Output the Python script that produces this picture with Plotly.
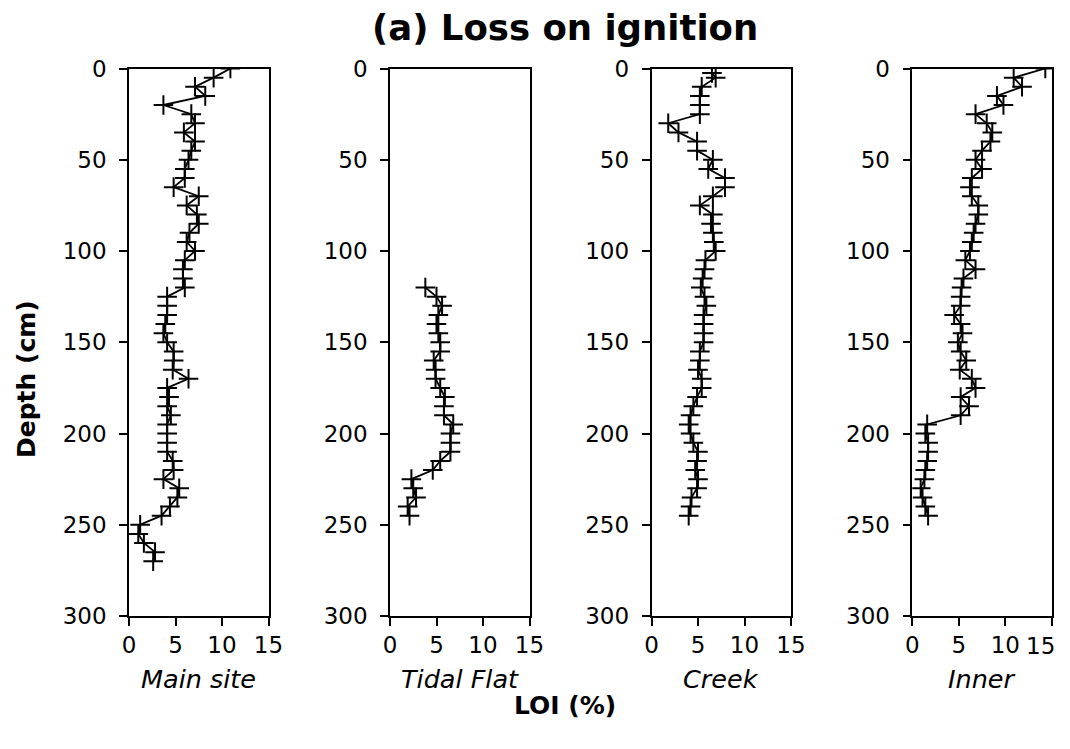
import plotly.graph_objects as go

# ---- data ----
main_depth = [0, 5, 10, 15, 20, 25, 30, 35, 40, 45, 50, 55, 60, 65, 70, 75, 80, 85, 90, 95,
              100, 105, 110, 115, 120, 125, 130, 135, 140, 145, 150, 155, 160, 165, 170, 175,
              180, 185, 190, 195, 200, 205, 210, 215, 220, 225, 230, 235, 240, 245, 250, 255,
              260, 265, 270]
main_loi = [10.9, 9.1, 7.1, 8.2, 3.7, 6.7, 7.1, 5.9, 7.1, 6.7, 6.4, 6.0, 6.0, 4.8, 7.5, 6.2,
            7.3, 7.5, 6.5, 6.2, 7.1, 6.0, 5.8, 5.8, 6.0, 4.1, 4.1, 4.1, 3.9, 3.7, 4.1, 4.8,
            4.8, 4.7, 6.4, 4.1, 4.3, 4.1, 4.5, 4.1, 4.1, 4.1, 4.1, 4.7, 4.8, 3.7, 5.4, 5.2,
            4.4, 3.5, 1.2, 1.0, 1.6, 2.8, 2.6]

tidal_depth = [120, 125, 130, 135, 140, 145, 150, 155, 160, 165, 170, 175, 180, 185, 190,
               195, 200, 205, 210, 215, 220, 225, 230, 235, 240, 245]
tidal_loi = [3.8, 5.0, 5.6, 5.2, 5.0, 5.2, 5.4, 5.4, 4.7, 4.9, 4.9, 5.4, 5.9, 5.8, 5.8,
             6.8, 6.5, 6.5, 6.5, 5.4, 4.6, 2.3, 2.5, 2.8, 1.9, 2.1]

creek_depth = [2.5, 5, 10, 15, 20, 25, 30, 35, 40, 45, 50, 55, 60, 65, 70, 75, 80, 85, 90, 95,
               100, 105, 110, 115, 120, 125, 130, 135, 140, 145, 150, 155, 160, 165, 170,
               175, 180, 185, 190, 195, 200, 205, 210, 215, 220, 225, 230, 235, 240, 245]
creek_loi = [6.5, 6.9, 5.4, 5.2, 5.2, 5.2, 1.8, 2.9, 4.9, 4.9, 6.6, 6.1, 7.9, 7.9, 6.6, 5.2,
             6.6, 6.4, 6.6, 6.7, 6.9, 5.8, 5.7, 5.5, 5.3, 5.7, 5.9, 5.6, 5.6, 5.6, 5.6, 5.2,
             5.2, 5.0, 5.4, 5.4, 4.9, 4.5, 4.2, 4.0, 4.2, 4.5, 5.0, 4.9, 4.7, 5.0, 4.9, 4.3,
             4.2, 4.0]

inner_depth = [0, 5, 10, 15, 20, 25, 30, 35, 40, 45, 50, 55, 60, 65, 70, 75, 80, 85, 90, 95,
               100, 105, 110, 115, 120, 125, 130, 135, 140, 145, 150, 155, 160, 165, 170,
               175, 180, 185, 190, 195, 200, 205, 210, 215, 220, 225, 230, 235, 240, 245]
inner_loi = [14.3, 10.9, 11.8, 9.1, 9.8, 6.8, 8.0, 8.6, 8.4, 7.5, 6.8, 7.5, 6.4, 6.2, 6.4,
             7.1, 7.1, 6.8, 6.6, 6.4, 6.2, 5.7, 6.8, 5.5, 5.3, 5.2, 5.2, 4.5, 5.2, 5.4, 4.9,
             5.2, 5.8, 5.1, 6.4, 6.8, 5.2, 6.1, 5.2, 1.6, 1.4, 1.7, 1.7, 1.6, 1.4, 1.3, 0.9,
             1.1, 1.4, 1.7]

site_names = ["Main site", "Tidal Flat", "Creek", "Inner"]
x_ticks = [0, 5, 10, 15]
y_ticks = [0, 50, 100, 150, 200, 250, 300]
title_text = "(a) Loss on ignition"
ylabel_text = "Depth (cm)"
xlabel_text = "LOI (%)"

series = [(main_loi, main_depth), (tidal_loi, tidal_depth),
          (creek_loi, creek_depth), (inner_loi, inner_depth)]

# ---- layout geometry (target-image pixels) ----
OFF = 8                          # page body margin
W, H = 1070 - OFF, 749 - 2 * OFF  # fit inside the window


def px(X):
    return (X - OFF) / W


def py(Y):
    return 1 - (Y - OFF) / H


left_px = [129, 390, 651.5, 912.3]
panel_w = 139.5
top_px, bot_px = 68.5, 616

FONT = "DejaVu Sans"
fig = go.Figure()

for i, (x, y) in enumerate(series):
    n = i + 1
    last = (i == len(series) - 1)
    fig.add_trace(go.Scatter(
        x=x, y=y, mode="lines+markers",
        line=dict(color="black", width=1.8),
        marker=dict(symbol="cross-thin", size=14, line=dict(color="black", width=2)),
        xaxis=f"x{n}", yaxis=f"y{n}", showlegend=False, hoverinfo="x+y",
    ))
    tick_text = [str(v) for v in x_ticks]
    if last:
        tick_text[-1] = ""  # drawn as an annotation so it stays inside the window
    ax = dict(
        domain=[px(left_px[i]), px(left_px[i] + panel_w)],
        range=[0, 15], tickvals=x_ticks, ticktext=tick_text, ticks="outside", ticklen=8,
        tickwidth=1.5, tickcolor="black", showline=True, linecolor="black", linewidth=1.5,
        mirror=True, showgrid=False, zeroline=False, anchor=f"y{n}", automargin=False,
        tickfont=dict(family=FONT, size=23, color="black"),
    )
    ay = dict(
        domain=[py(bot_px), py(top_px)],
        range=[300, 0], tickvals=y_ticks, ticks="outside", ticklen=8, tickwidth=1.5,
        tickcolor="black", showline=True, linecolor="black", linewidth=1.5, mirror=True,
        showgrid=False, zeroline=False, anchor=f"x{n}", automargin=False,
        ticklabelstandoff=8,
        tickfont=dict(family=FONT, size=23, color="black"),
    )
    fig.layout[f"xaxis{'' if n == 1 else n}"] = ax
    fig.layout[f"yaxis{'' if n == 1 else n}"] = ay
    fig.add_annotation(
        text=site_names[i], x=px(left_px[i] + panel_w / 2), y=py(679),
        xref="paper", yref="paper", showarrow=False, xanchor="center", yanchor="middle",
        font=dict(family=FONT, size=25.5, color="black", style="italic"),
    )

# last tick label of the right-most panel, kept inside the visible area
fig.add_annotation(text=str(x_ticks[-1]), x=px(1057), y=py(646), xref="paper", yref="paper",
                   showarrow=False, xanchor="right", yanchor="middle",
                   font=dict(family=FONT, size=23, color="black"))

fig.add_annotation(text=title_text, x=px(565), y=py(27), xref="paper", yref="paper",
                   showarrow=False, xanchor="center", yanchor="middle",
                   font=dict(family=FONT, size=35.5, color="black", weight="bold"))
fig.add_annotation(text=ylabel_text, x=px(26), y=py(379), xref="paper", yref="paper",
                   showarrow=False, xanchor="center", yanchor="middle", textangle=-90,
                   font=dict(family=FONT, size=25, color="black", weight="bold"))
fig.add_annotation(text=xlabel_text, x=px(565), y=py(705), xref="paper", yref="paper",
                   showarrow=False, xanchor="center", yanchor="middle",
                   font=dict(family=FONT, size=25, color="black", weight="bold"))

fig.update_layout(width=W, height=H, margin=dict(l=0, r=0, t=0, b=0),
                  plot_bgcolor="white", paper_bgcolor="white")

fig.write_html("out.html")
